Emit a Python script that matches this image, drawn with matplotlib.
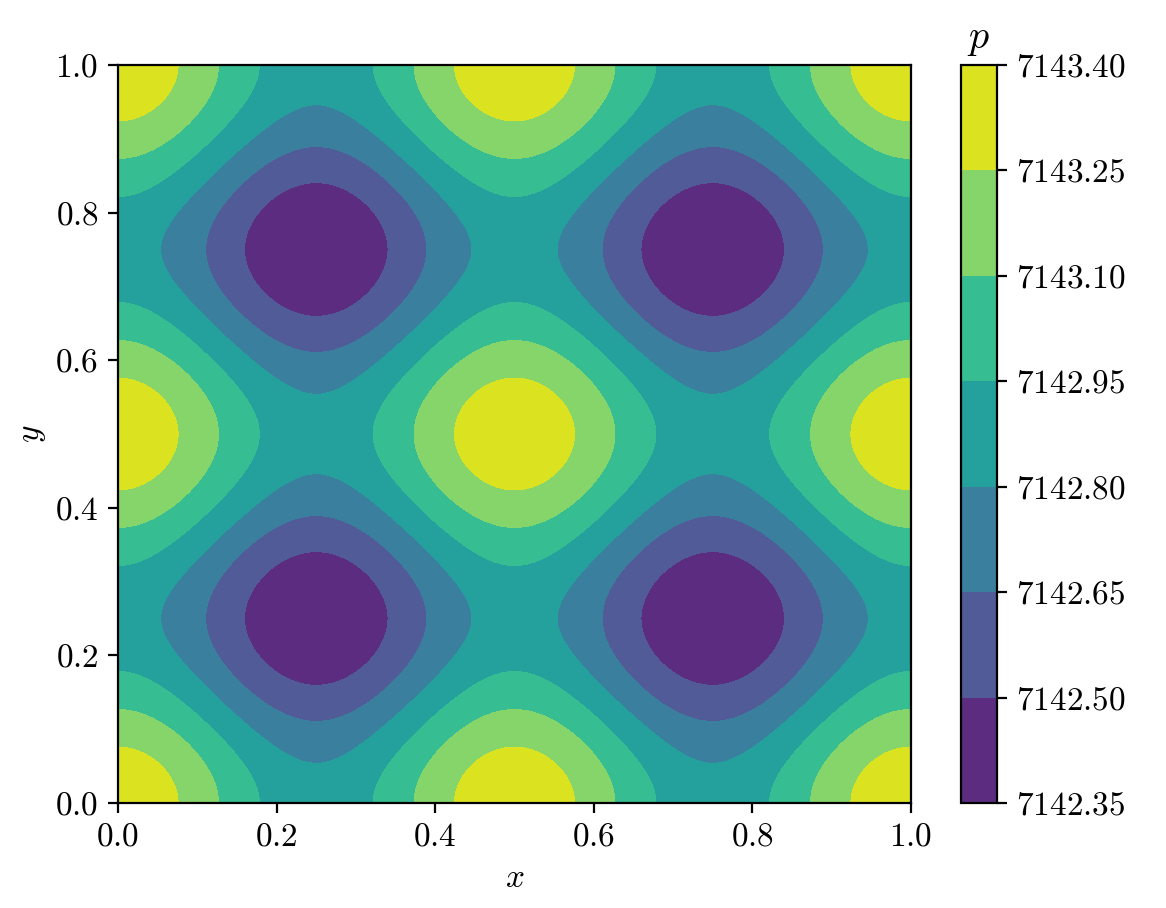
import numpy as np
import matplotlib
matplotlib.use("Agg")
import matplotlib.pyplot as plt

plt.rcParams["font.family"] = "serif"
plt.rcParams["font.serif"] = ["cmr10"]
plt.rcParams["mathtext.fontset"] = "cm"
plt.rcParams["axes.formatter.use_mathtext"] = True
plt.rcParams["font.size"] = 12

# pressure field of the Taylor-Green vortex
p_mean = 7142.855
p_amp = 0.25
levels = [7142.35, 7142.50, 7142.65, 7142.80, 7142.95, 7143.10, 7143.25, 7143.40]
ticks = [0.0, 0.2, 0.4, 0.6, 0.8, 1.0]
# band colours as they appear in the picture (a lightened viridis)
band_colors = ["#5b2c7f", "#505b98", "#3b7f9f", "#24a09d", "#36bd91", "#86d56a", "#dbe320"]

x = np.linspace(0.0, 1.0, 401)
y = np.linspace(0.0, 1.0, 401)
X, Y = np.meshgrid(x, y)
P = p_mean + p_amp * (np.cos(4 * np.pi * X) + np.cos(4 * np.pi * Y))

fig = plt.figure(figsize=(5.83, 4.54), dpi=200)
ax = fig.add_axes([118 / 1166, 1 - 803 / 908, 793 / 1166, 738 / 908])
cax = fig.add_axes([961 / 1166, 1 - 803 / 908, 36 / 1166, 738 / 908])

cs = ax.contourf(X, Y, P, levels=levels, colors=band_colors)
ax.set_xticks(ticks)
ax.set_yticks(ticks)
ax.set_xticklabels([f"${t:.1f}$" for t in ticks])
ax.set_yticklabels([f"${t:.1f}$" for t in ticks])
ax.set_xlabel("$x$", labelpad=4.5)
ax.set_ylabel("$y$", labelpad=2.5)

cb = fig.colorbar(cs, cax=cax)
cb.set_ticks(levels)
cb.set_ticklabels([f"${v:.2f}$" for v in levels])
cax.set_title("$p$")

fig.savefig("out.png", dpi=200)
